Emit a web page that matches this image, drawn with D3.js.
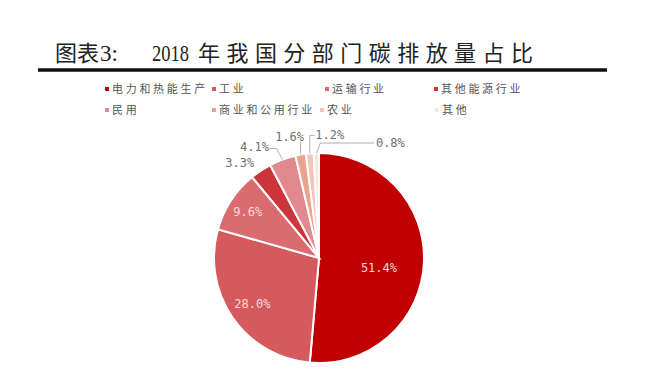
<!DOCTYPE html>
<html lang="zh">
<head>
    <meta charset="UTF-8">
    <title>2018年我国分部门碳排放量占比</title>
    <script src="https://cdnjs.cloudflare.com/ajax/libs/d3/7.8.5/d3.min.js"></script>
    <style>
        body {
            margin: 0;
            padding: 0;
            background-color: #fff;
        }
        .legend text {
            font: 11px "Noto Sans CJK SC", sans-serif;
            fill: #555;
            letter-spacing: 2.7px;
        }
        .pct {
            font: 12px "DejaVu Sans Mono", monospace;
        }
        .leader {
            fill: none;
            stroke: #b0b0b0;
            stroke-width: 1px;
        }
    </style>
</head>
<body>
    <div id="chart"></div>
    <script>
        // data
        const categories = ["电力和热能生产", "工业", "运输行业", "其他能源行业", "民用", "商业和公用行业", "农业", "其他"];
        const shares = [51.4, 28.0, 9.6, 3.3, 4.1, 1.6, 1.2, 0.8];
        const colors = ["#C00000", "#D6595D", "#DA6C70", "#CC363B", "#E0898F", "#EBA38E", "#F3C5BA", "#FAE3DB"];
        const titleLead = "图表";
        const titleNum = "3:";
        const titleYear = "2018";
        const titleRest = "年我国分部门碳排放量占比";

        const width = 659, height = 373;
        const cx = 319, cy = 258, radius = 105;

        const svg = d3.select("#chart").append("svg")
            .attr("width", width)
            .attr("height", height);

        // title
        const title = svg.append("g").style("fill", "#222");
        title.append("text")
            .attr("x", 55).attr("y", 61)
            .style("font", "22px 'Noto Sans CJK SC', serif")
            .text(titleLead);
        title.append("text")
            .attr("x", 100).attr("y", 61)
            .attr("textLength", 18).attr("lengthAdjust", "spacing")
            .style("font", "23px 'Liberation Serif', serif")
            .text(titleNum);
        title.append("text")
            .attr("x", 152).attr("y", 61)
            .attr("textLength", 37).attr("lengthAdjust", "spacingAndGlyphs")
            .style("font", "23px 'Liberation Serif', serif")
            .text(titleYear);
        title.append("text")
            .attr("x", 198).attr("y", 61)
            .attr("textLength", 335).attr("lengthAdjust", "spacing")
            .style("font", "22px 'Noto Sans CJK SC', serif")
            .text(titleRest);
        svg.append("line")
            .attr("x1", 38).attr("x2", 607)
            .attr("y1", 70).attr("y2", 70)
            .attr("stroke", "#111")
            .attr("stroke-width", 3.5);

        // legend, two rows of four (Excel-style flow)
        const legendX = [107, 214, 327, 436, 107, 214, 322, 437];
        const legendY = [89, 110];
        const legend = svg.append("g").attr("class", "legend")
            .selectAll("g")
            .data(categories)
            .join("g")
            .attr("transform", (d, i) => `translate(${legendX[i]},${legendY[Math.floor(i / 4)]})`);
        legend.append("rect")
            .attr("x", -2).attr("y", -2)
            .attr("width", 4).attr("height", 4)
            .attr("fill", (d, i) => colors[i]);
        legend.append("text")
            .attr("x", 5)
            .attr("dy", "0.36em")
            .text(d => d);

        // pie, clockwise from 12 o'clock in data order
        const pie = d3.pie().sort(null).value(d => d);
        const arcs = pie(shares);
        const arc = d3.arc().innerRadius(0).outerRadius(radius);

        const g = svg.append("g").attr("transform", `translate(${cx},${cy})`);

        g.selectAll("path.slice")
            .data(arcs)
            .join("path")
            .attr("class", "slice")
            .attr("d", arc)
            .attr("fill", (d, i) => colors[i])
            .attr("stroke", "#fff")
            .attr("stroke-width", 2);

        const fmt = v => d3.format(".1f")(v) + "%";
        const mid = d => (d.startAngle + d.endAngle) / 2;
        const polar = (a, r) => [Math.sin(a) * r, -Math.cos(a) * r];

        // inside labels (large slices): distance from centre per slice
        const insideR = { 0: 60, 1: 81, 2: 85 };
        g.selectAll("text.inside")
            .data(arcs.filter((d, i) => i in insideR))
            .join("text")
            .attr("class", "pct inside")
            .attr("text-anchor", "middle")
            .attr("dy", "0.35em")
            .attr("transform", d => {
                const [x, y] = polar(mid(d), insideR[d.index]);
                return `translate(${x},${y + (d.index === 0 ? 7 : 0)})`;
            })
            .style("fill", "#F8DADA")
            .text(d => fmt(d.data));

        // outside labels: offset of label centre from the slice's rim point, and leader style
        const outside = [
            { i: 3, dx: -21, dy: -8, leader: "none" },
            { i: 4, dx: -28, dy: -13, leader: "diag" },
            { i: 5, dx: -11, dy: -18, leader: "up" },
            { i: 6, dx: 20, dy: -19, leader: "upright" },
            { i: 7, dx: 74, dy: -10, leader: "left" }
        ];
        const halfW = 13;

        outside.forEach(o => {
            const d = arcs[o.i];
            const [ex, ey] = polar(mid(d), radius);
            const lx = ex + o.dx, ly = ey + o.dy;
            let pts = null;
            if (o.leader === "diag") pts = [[ex, ey], [ex - 6, ly + 2], [lx + halfW + 2, ly + 2]];
            if (o.leader === "up") pts = [[ex, ey], [ex, ly + 5]];
            if (o.leader === "upright") pts = [[ex, ey], [ex, ly + 1], [lx - halfW - 2, ly + 1]];
            if (o.leader === "left") pts = [[ex, ey], [ex + 4, ly], [lx - halfW - 3, ly]];
            if (pts) {
                g.append("path")
                    .attr("class", "leader")
                    .attr("d", d3.line()(pts));
            }
            g.append("text")
                .attr("class", "pct")
                .attr("x", lx).attr("y", ly)
                .attr("text-anchor", "middle")
                .attr("dy", "0.35em")
                .style("fill", "#707070")
                .text(fmt(d.data));
        });
    </script>
</body>
</html>
